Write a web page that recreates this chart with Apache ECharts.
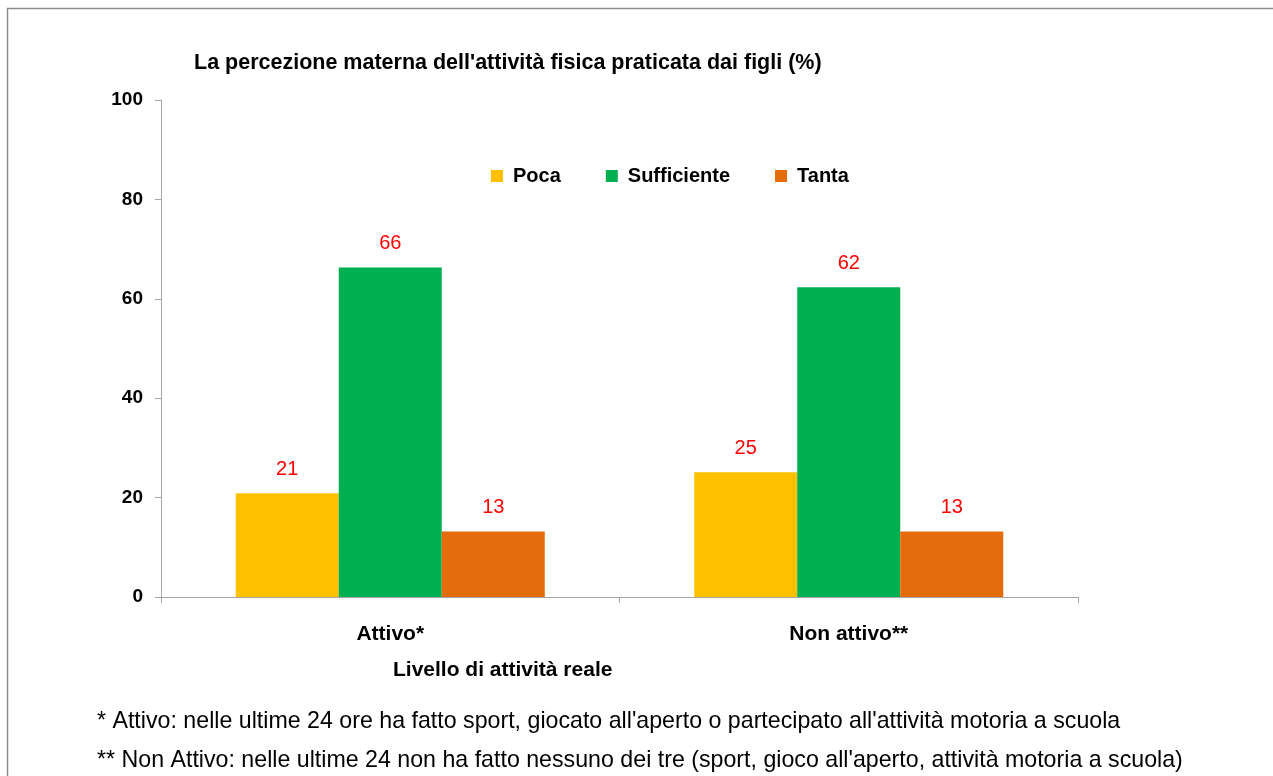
<!DOCTYPE html>
<html>
<head>
<meta charset="utf-8">
<script src="https://cdn.jsdelivr.net/npm/echarts@6/dist/echarts.min.js"></script>
<style>
  html, body { margin: 0; padding: 0; background: #fff; }
  #chart { width: 1273px; height: 776px; }
</style>
</head>
<body>
<div id="chart"></div>
<script>
// categories and series
const categories = ["Attivo*", "Non attivo**"];
const poca = [20.9, 25.1];
const sufficiente = [66.3, 62.3];
const tanta = [13.2, 13.2];
const yTicks = [0, 20, 40, 60, 80, 100];

const font = "'Liberation Sans', Arial, sans-serif";
const colors = ["#FFC000", "#00B050", "#E46C0A"];

const chart = echarts.init(document.getElementById("chart"));

const labelStyle = {
  show: true,
  position: "top",
  distance: 14,
  color: "#FF0000",
  fontFamily: font,
  fontSize: 20,
  formatter: p => Math.round(p.value)
};

chart.setOption({
  color: colors,
  animation: false,
  textStyle: { fontFamily: font },
  title: {
    text: "La percezione materna dell'attività fisica praticata dai figli (%)",
    left: 189,
    top: 47,
    textStyle: { fontSize: 21.5, fontWeight: "bold", color: "#000", fontFamily: font }
  },
  legend: {
    left: 491,
    top: 166,
    padding: 0,
    itemWidth: 12,
    itemHeight: 12,
    itemGap: 45,
    icon: "rect",
    textStyle: { fontSize: 20, fontWeight: "bold", color: "#000", fontFamily: font, padding: [0, 0, 0, 5] },
    data: ["Poca", "Sufficiente", "Tanta"]
  },
  grid: { left: 161, right: 195, top: 100, bottom: 179 },
  xAxis: {
    type: "category",
    data: categories,
    axisLine: { lineStyle: { color: "#a6a6a6" } },
    axisTick: { show: true, length: 6, lineStyle: { color: "#a6a6a6" } },
    axisLabel: { margin: 27, fontSize: 21, fontWeight: "bold", color: "#000", fontFamily: font }
  },
  yAxis: {
    type: "value",
    min: yTicks[0],
    max: yTicks[yTicks.length - 1],
    interval: 20,
    splitLine: { show: false },
    axisLine: { show: true, lineStyle: { color: "#a6a6a6" } },
    axisTick: { show: true, length: 6, lineStyle: { color: "#a6a6a6" } },
    axisLabel: { margin: 18, fontSize: 19, fontWeight: "bold", color: "#000", fontFamily: font }
  },
  series: [
    { name: "Poca", type: "bar", data: poca, barGap: "0%", barCategoryGap: "32.6%", label: labelStyle },
    { name: "Sufficiente", type: "bar", data: sufficiente, label: labelStyle },
    { name: "Tanta", type: "bar", data: tanta, label: labelStyle }
  ],
  graphic: [
    {
      type: "rect",
      shape: { x: 7.5, y: 8.5, width: 1400, height: 900 },
      style: { fill: "none", stroke: "#8c8c8c", lineWidth: 1.5 },
      silent: true
    },
    {
      type: "text",
      left: 393,
      top: 660,
      style: { text: "Livello di attività reale", fontSize: 21, fontWeight: "bold", fill: "#000", fontFamily: font }
    },
    {
      type: "text",
      left: 97,
      top: 710,
      style: { text: "* Attivo: nelle ultime 24 ore ha fatto sport, giocato all'aperto o partecipato all'attività motoria a scuola", fontSize: 23.2, fill: "#000", fontFamily: font }
    },
    {
      type: "text",
      left: 97,
      top: 749,
      style: { text: "** Non Attivo: nelle ultime 24 non ha fatto nessuno dei tre (sport, gioco all'aperto, attività motoria a scuola)", fontSize: 23.2, fill: "#000", fontFamily: font }
    }
  ]
});
</script>
</body>
</html>
